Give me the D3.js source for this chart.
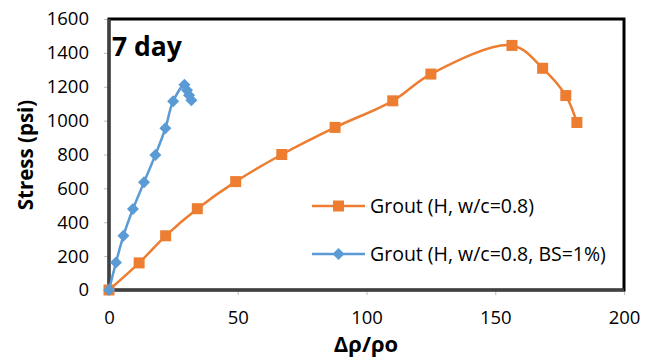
<!DOCTYPE html>
<html>
<head>
<meta charset="utf-8">
<script src="https://cdn.jsdelivr.net/npm/d3@7"></script>
<style>
  html, body { margin: 0; padding: 0; background: #fff; }
  svg { display: block; }
  text { font-family: "Open Sans", "Liberation Sans", sans-serif; fill: #000; }
</style>
</head>
<body>
<svg id="chart" width="646" height="364"></svg>
<script>
// ---- data ----
const seriesNames = ["Grout (H, w/c=0.8)", "Grout (H, w/c=0.8, BS=1%)"];
const groutX = [0, 11.7, 22, 34.3, 49.2, 67.1, 87.8, 110.2, 125, 156.5, 168.4, 177.4, 181.7];
const groutY = [0, 160, 320, 480, 640, 800, 960, 1117, 1275, 1444, 1309, 1148, 989];
const groutBSX = [0, 2.7, 5.6, 9.3, 13.6, 18.0, 21.9, 24.9, 29.3, 30.3, 31.1, 32.0];
const groutBSY = [0, 162, 320, 478, 636, 797, 955, 1114, 1212, 1180, 1150, 1120];
const xTicks = [0, 50, 100, 150, 200];
const yTicks = [0, 200, 400, 600, 800, 1000, 1200, 1400, 1600];
const colors = ["#ED7D31", "#5B9BD5"];
const annotation = "7 day";
const xTitle = "Δρ/ρo";
const yTitle = "Stress (psi)";

// ---- layout ----
const svg = d3.select("#chart");
const L = 109, R = 624, T = 19, B = 290;
const x = d3.scaleLinear().domain([0, 200]).range([L, R]);
const y = d3.scaleLinear().domain([0, 1600]).range([B, T]);
const fs = "18.5px";

// axes ticks & labels
const yAxis = svg.append("g").attr("transform", `translate(${L},0)`)
  .call(d3.axisLeft(y).tickValues(yTicks).tickSize(5).tickPadding(15).tickFormat(d3.format("d")));
yAxis.select(".domain").remove();
yAxis.selectAll(".tick line").attr("stroke", "#bfbfbf").attr("stroke-width", 1);
yAxis.selectAll(".tick text").style("font-size", fs).style("font-family", "Open Sans").attr("fill", "#000");

const xAxis = svg.append("g").attr("transform", `translate(0,${B})`)
  .call(d3.axisBottom(x).tickValues(xTicks).tickSize(5).tickPadding(16).tickFormat(d3.format("d")));
xAxis.select(".domain").remove();
xAxis.selectAll(".tick line").attr("stroke", "#bfbfbf").attr("stroke-width", 1);
xAxis.selectAll(".tick text").style("font-size", fs).style("font-family", "Open Sans").attr("fill", "#000");

// frame
svg.append("rect").attr("x", L).attr("y", T).attr("width", R - L).attr("height", B - T)
  .attr("fill", "none").attr("stroke", "#000").attr("stroke-width", 3);
svg.append("path").attr("d", `M${L},${T}V${B}H${R}`).attr("fill", "none")
  .attr("stroke", "#404040").attr("stroke-width", 3);

// series
const series = [
  { name: seriesNames[0], xs: groutX, ys: groutY, color: colors[0], shape: "square" },
  { name: seriesNames[1], xs: groutBSX, ys: groutBSY, color: colors[1], shape: "diamond" }
];
const line = d3.line().x(d => x(d[0])).y(d => y(d[1])).curve(d3.curveCatmullRom.alpha(0.5));
const sqSym = d3.symbol().type(d3.symbolSquare).size(121);
const diSym = d3.symbol().type(d3.symbolSquare).size(72);

function marker(g, s, cx, cy) {
  if (s.shape === "square") {
    g.append("path").attr("d", sqSym()).attr("transform", `translate(${cx},${cy})`).attr("fill", s.color);
  } else {
    g.append("path").attr("d", diSym()).attr("transform", `translate(${cx},${cy}) rotate(45)`).attr("fill", s.color);
  }
}

series.forEach(s => {
  const pts = s.xs.map((v, i) => [v, s.ys[i]]);
  const g = svg.append("g");
  g.append("path").attr("d", line(pts)).attr("fill", "none").attr("stroke", s.color).attr("stroke-width", 2.5);
  pts.forEach(p => marker(g, s, x(p[0]), y(p[1])));
});

// legend
const legY = [206, 254];
series.forEach((s, i) => {
  const g = svg.append("g");
  g.append("line").attr("x1", 312).attr("x2", 365).attr("y1", legY[i]).attr("y2", legY[i])
    .attr("stroke", s.color).attr("stroke-width", 2.5);
  marker(g, s, 338.5, legY[i]);
  g.append("text").attr("x", 370).attr("y", legY[i]).attr("dy", "0.35em")
    .style("font-size", "19.5px").text(s.name);
});

// annotation
svg.append("text").attr("x", 112).attr("y", 56).style("font-size", "26.5px").style("font-weight", "bold").text(annotation);

// axis titles
svg.append("text").attr("x", 366).attr("y", 352).attr("text-anchor", "middle")
  .style("font-size", "22px").style("font-weight", "bold").text(xTitle);
svg.append("text").attr("transform", "translate(33,155) rotate(-90)").attr("text-anchor", "middle")
  .style("font-size", "20.5px").style("font-weight", "bold").text(yTitle);
</script>
</body>
</html>
